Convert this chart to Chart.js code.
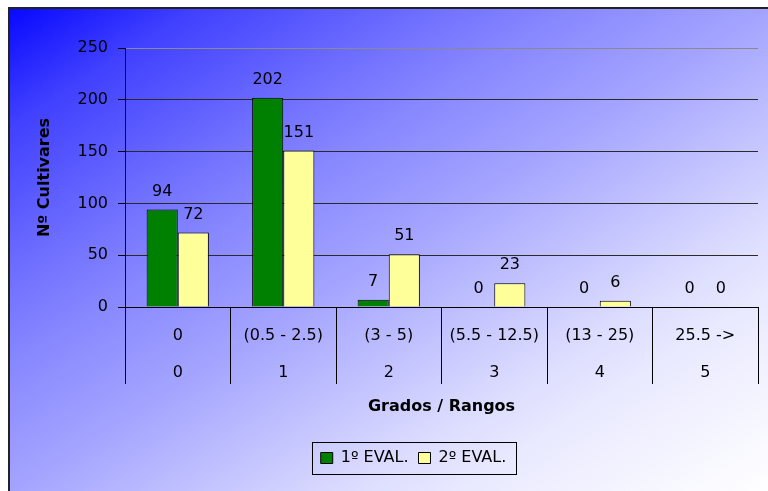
<!DOCTYPE html>
<html>
<head>
<meta charset="utf-8">
<script src="https://cdn.jsdelivr.net/npm/chart.js@4/dist/chart.umd.min.js"></script>
<style>
  html, body { margin: 0; padding: 0; background: #fff; }
  #wrap { position: relative; width: 768px; height: 491px; overflow: hidden; background: #fff; }
  #bg {
    position: absolute; left: 8px; top: 7px; width: 760px; height: 484px;
    border-left: 2px solid #222; border-top: 2px solid #222;
    background: linear-gradient(to bottom right,
      #0808ff 0%, #4040ff 12%, #7070ff 28%, #8888ff 37%, #a4a4ff 50%,
      #dcdcff 72%, #eaeaff 80%, #ffffff 100%);
  }
  #c { position: absolute; left: 0; top: 0; }
</style>
</head>
<body>
<div id="wrap">
  <div id="bg"></div>
  <canvas id="c" width="768" height="491"></canvas>
</div>
<script>
  // values
  var RANGES = ["0", "(0.5 - 2.5)", "(3 - 5)", "(5.5 - 12.5)", "(13 - 25)", "25.5 ->"];
  var GRADES = ["0", "1", "2", "3", "4", "5"];
  var EVAL1 = [94, 202, 7, 0, 0, 0];
  var EVAL2 = [72, 151, 51, 23, 6, 0];
  var Y_MAX = 250, Y_STEP = 50;

  var GREEN = "#008000", YELLOW = "#ffff99", GREY = "#8a8a8a";
  var FONT = "'DejaVu Sans', sans-serif";
  Chart.defaults.font.family = FONT;
  Chart.defaults.font.size = 16;
  Chart.defaults.color = "#000";

  // number above each bar
  var valueLabels = {
    id: "valueLabels",
    afterDatasetsDraw: function (chart) {
      var ctx = chart.ctx;
      ctx.save();
      ctx.font = "16px " + FONT;
      ctx.fillStyle = "#000";
      ctx.textAlign = "center";
      ctx.textBaseline = "middle";
      chart.data.datasets.forEach(function (ds, di) {
        chart.getDatasetMeta(di).data.forEach(function (bar, i) {
          ctx.fillText(String(ds.data[i]), bar.x, bar.y - 18);
        });
      });
      ctx.restore();
    }
  };

  // legend sits a bit right of the canvas centre, with a thin frame round it
  var legendFrame = {
    id: "legendFrame",
    afterLayout: function (chart) { chart.legend.left += 38; },
    afterDraw: function (chart) {
      var hb = chart.legend.legendHitBoxes;
      if (!hb || !hb.length) return;
      var last = hb[hb.length - 1];
      var x0 = hb[0].left - 9, x1 = last.left + last.width + 9;
      var cy = hb[0].top + hb[0].height / 2;
      var ctx = chart.ctx;
      ctx.save();
      ctx.strokeStyle = "#000";
      ctx.lineWidth = 1;
      ctx.strokeRect(Math.round(x0) + 0.5, Math.round(cy - 16) + 0.5, Math.round(x1 - x0), 32);
      ctx.restore();
    }
  };

  new Chart(document.getElementById("c"), {
    type: "bar",
    data: {
      labels: RANGES.map(function (r, i) { return [r, GRADES[i]]; }),
      datasets: [
        { label: "1º EVAL.", data: EVAL1, backgroundColor: GREEN, borderColor: "#000", borderWidth: 1 },
        { label: "2º EVAL.", data: EVAL2, backgroundColor: YELLOW, borderColor: "#000", borderWidth: 1 }
      ]
    },
    options: {
      responsive: false, animation: false,
      layout: { padding: { left: 31, top: 48, right: 10, bottom: 15 } },
      datasets: { bar: { categoryPercentage: 0.59, barPercentage: 1.0 } },
      plugins: {
        legend: {
          position: "bottom",
          labels: { boxWidth: 12, boxHeight: 11, padding: 10, color: "#000", font: { size: 16 } }
        },
        tooltip: { enabled: false }
      },
      scales: {
        x: {
          afterFit: function (s) { s.height = 133; },
          grid: {
            offset: true, drawOnChartArea: true, drawTicks: true, tickLength: 77,
            color: function (c) { return c.index === RANGES.length ? GREY : "rgba(0,0,0,0)"; },
            tickColor: function (c) { return c.index === RANGES.length ? GREY : "#000"; }
          },
          border: { color: "#000", width: 1 },
          ticks: {
            autoSkip: false, maxRotation: 0, minRotation: 0, padding: -66.5, color: "#000",
            font: { size: 16, lineHeight: 2.3125 }
          },
          title: {
            display: true, text: "Grados / Rangos", color: "#000",
            font: { size: 16, weight: "bold" }, padding: { top: 0, bottom: 23.4 }
          }
        },
        y: {
          min: 0, max: Y_MAX,
          afterFit: function (s) { s.width = 94; },
          grid: {
            color: function (c) { return c.tick && c.tick.value === Y_MAX ? GREY : "#2a2a2a"; },
            tickColor: "#000", tickLength: 7
          },
          border: { color: "#000", width: 1 },
          ticks: { stepSize: Y_STEP, padding: 10, color: "#000", font: { size: 16 } },
          title: {
            display: true, text: "Nº Cultivares", color: "#000",
            font: { size: 16, weight: "bold" }, padding: { top: 4, bottom: 4 }
          }
        }
      }
    },
    plugins: [valueLabels, legendFrame]
  });
</script>
</body>
</html>
